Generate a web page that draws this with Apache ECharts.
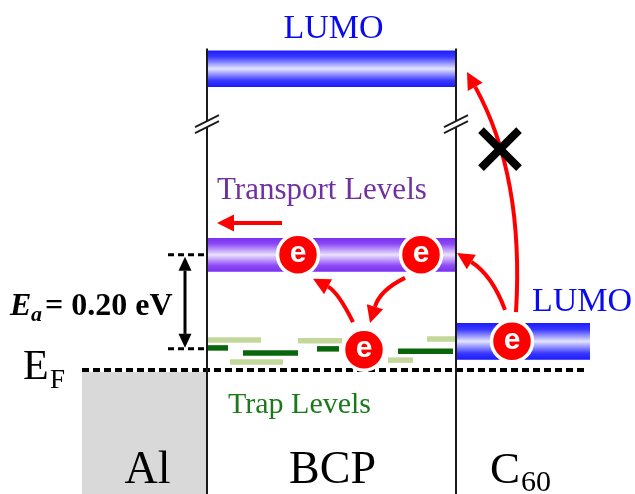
<!DOCTYPE html>
<html>
<head>
<meta charset="utf-8">
<script src="https://cdn.jsdelivr.net/npm/echarts@6/dist/echarts.min.js"></script>
<style>
  html, body { margin: 0; padding: 0; background: #ffffff; }
  #chart { width: 635px; height: 494px; }
</style>
</head>
<body>
<div id="chart"></div>
<script>
// ---- Energy data (eV, measured from the Fermi level E_F) ----
const fermiLevel = 0;
const activationEnergy = 0.20;                       // E_a between trap and transport levels
const trapLevel = 0.045;                             // centre of the BCP trap states
const transportLevel = trapLevel + activationEnergy; // BCP transport levels
const c60Lumo = 0.061;                               // C60 LUMO
const bcpLumo = 0.641;                               // BCP LUMO, drawn above an axis break
const levelEnergies = [bcpLumo, transportLevel, c60Lumo];
const levelNames = ['LUMO', 'Transport Levels', 'LUMO'];
const shallowTraps = [0.064, 0.017, 0.062, 0.021, 0.066];   // light green states
const deepTraps = [0.047, 0.036, 0.045, 0.040];             // dark green states
const electronEnergies = [transportLevel, transportLevel, 0.043, c60Lumo];
const layerNames = ['Al', 'BCP', 'C'];
const layerSubscripts = ['', '', '60'];

// ---- Layout along the horizontal (stack) axis ----
const X_MAX = 635;
const E_MIN = -0.2638, E_MAX = 0.7872;
const alX = [82, 207];
const bcpX = [207, 456];
const c60X = [456, 590];
const fermiX = [82, 585];
const levelX = [bcpX, bcpX, c60X];
const levelHalf = [0.039, 0.036, 0.039];
const shallowX = [[208, 261], [230, 283], [298, 342], [388, 413], [427, 456]];
const deepX = [[208, 228], [243, 298], [317, 339], [398, 453]];
const electronX = [298, 421, 364, 512];
const breakE = 0.521;

const blueBand = new echarts.graphic.LinearGradient(0, 0, 0, 1, [
  { offset: 0, color: '#1a1aff' }, { offset: 0.18, color: '#3a3aff' },
  { offset: 0.5, color: '#e4e4ff' }, { offset: 0.82, color: '#3a3aff' },
  { offset: 1, color: '#1a1aff' }
]);
const purpleBand = new echarts.graphic.LinearGradient(0, 0, 0, 1, [
  { offset: 0, color: '#7a2ff0' }, { offset: 0.18, color: '#8c4af5' },
  { offset: 0.5, color: '#ece2ff' }, { offset: 0.82, color: '#8c4af5' },
  { offset: 1, color: '#7a2ff0' }
]);
const levelFill = [blueBand, purpleBand, blueBand];
const levelText = ['#0a0aee', '#7030a0', '#0a0aee'];

const SERIF = '"Liberation Serif", "Times New Roman", serif';
const RED = '#ff0000';

// Arrow paths in [x, energy]: start, control point(s), tip
const hopArrows = [
  [[353, 0.102], [338, 0.166], [313, 0.194]],          // trap -> transport (left)
  [[405, 0.196], [380, 0.170], [370, 0.100]],          // transport -> trap
  [[505, 0.128], [492, 0.202], [457, 0.249]],          // C60 -> BCP transport
  [[516, 0.123], [521, 0.298], [510, 0.468], [467, 0.634]], // C60 -> BCP LUMO (blocked)
  [[282, 0.313], [217, 0.313]]                          // drift along transport levels
];
const blockedAt = [500, 0.470];

function arrowHead(tip, from, len, half) {
  const dx = tip[0] - from[0], dy = tip[1] - from[1];
  const d = Math.hypot(dx, dy) || 1;
  const ux = dx / d, uy = dy / d;
  const base = [tip[0] - ux * len, tip[1] - uy * len];
  return {
    base,
    points: [tip, [base[0] - uy * half, base[1] + ux * half], [base[0] + uy * half, base[1] - ux * half]]
  };
}

const chart = echarts.init(document.getElementById('chart'));

const option = {
  animation: false,
  backgroundColor: '#ffffff',
  grid: { left: 0, right: 0, top: 0, bottom: 0 },
  xAxis: { type: 'value', min: 0, max: X_MAX, show: false },
  yAxis: { type: 'value', min: E_MIN, max: E_MAX, show: false },
  series: [
    // Al electrode, filled up to the Fermi level
    {
      type: 'custom', z: 1, data: [[alX[0], alX[1], fermiLevel]],
      renderItem(params, api) {
        const a = api.coord([api.value(0), api.value(2)]);
        const b = api.coord([api.value(1), E_MIN]);
        return { type: 'rect', shape: { x: a[0], y: a[1] + 2, width: b[0] - a[0], height: b[1] - a[1] }, style: { fill: '#d9d9d9' } };
      }
    },
    // Energy bands with their labels
    {
      type: 'custom', z: 2, data: levelEnergies.map((e, i) => [i, e]),
      renderItem(params, api) {
        const i = api.value(0), e = api.value(1);
        const xs = levelX[i], h = levelHalf[i];
        const t = api.coord([xs[0], e + h]);
        const b = api.coord([xs[1], e - h]);
        const children = [{ type: 'rect', shape: { x: t[0], y: t[1], width: b[0] - t[0], height: b[1] - t[1] }, style: { fill: levelFill[i] } }];
        let lx, ly, align;
        if (i === 0) { lx = (t[0] + b[0]) / 2 + 2; ly = t[1] - 21; align = 'center'; }
        else if (i === 1) { lx = t[0] + 10; ly = t[1] - 47; align = 'left'; }
        else { lx = b[0] - 58; ly = t[1] - 21; align = 'left'; }
        children.push({
          type: 'text',
          style: { text: levelNames[i], x: lx, y: ly, align, verticalAlign: 'middle', fill: levelText[i], font: (i === 1 ? 31 : 34) + 'px ' + SERIF }
        });
        return { type: 'group', children };
      }
    },
    // Trap states in BCP
    {
      type: 'custom', z: 3,
      data: shallowTraps.map((e, i) => [0, i, e]).concat(deepTraps.map((e, i) => [1, i, e])),
      renderItem(params, api) {
        const kind = api.value(0), i = api.value(1), e = api.value(2);
        const xs = kind === 0 ? shallowX[i] : deepX[i];
        const a = api.coord([xs[0], e]), b = api.coord([xs[1], e]);
        return { type: 'line', shape: { x1: a[0], y1: a[1], x2: b[0], y2: b[1] }, style: { stroke: kind === 0 ? '#c4d79b' : '#0a660a', lineWidth: 5.5 } };
      }
    },
    // Fermi level
    {
      type: 'custom', z: 4, data: [[fermiX[0], fermiX[1], fermiLevel]],
      renderItem(params, api) {
        const a = api.coord([api.value(0), api.value(2)]), b = api.coord([api.value(1), api.value(2)]);
        return { type: 'line', shape: { x1: a[0], y1: a[1], x2: b[0], y2: b[1] }, style: { stroke: '#000', lineWidth: 4, lineDash: [7, 4] } };
      }
    },
    // Layer interfaces with axis-break marks
    {
      type: 'custom', z: 5, data: [bcpX[0], bcpX[1]],
      renderItem(params, api) {
        const x = api.value(0);
        const top = api.coord([x, bcpLumo + levelHalf[0] + 0.004]);
        const bot = api.coord([x, E_MIN]);
        const br = api.coord([x, breakE]);
        return {
          type: 'group', children: [
            { type: 'line', shape: { x1: top[0], y1: top[1], x2: bot[0], y2: bot[1] }, style: { stroke: '#1a1a1a', lineWidth: 2 } },
            { type: 'polygon', shape: { points: [[br[0] - 12, br[1] + 2], [br[0] + 12, br[1] - 10], [br[0] + 12, br[1] - 4], [br[0] - 12, br[1] + 8]] }, style: { fill: '#fff' } },
            { type: 'line', shape: { x1: br[0] - 12, y1: br[1] + 2, x2: br[0] + 12, y2: br[1] - 10 }, style: { stroke: '#1a1a1a', lineWidth: 1.8 } },
            { type: 'line', shape: { x1: br[0] - 12, y1: br[1] + 8, x2: br[0] + 12, y2: br[1] - 4 }, style: { stroke: '#1a1a1a', lineWidth: 1.8 } }
          ]
        };
      }
    },
    // Activation energy marker
    {
      type: 'custom', z: 6, data: [[trapLevel, transportLevel]],
      renderItem(params, api) {
        const lo = api.coord([168, api.value(0)]), hi = api.coord([168, api.value(1)]);
        const loEnd = api.coord([205, api.value(0)]);
        const ax = api.coord([185, 0])[0];
        const hTop = arrowHead([ax, hi[1] + 2], [ax, hi[1] + 40], 14, 6.5);
        const hBot = arrowHead([ax, lo[1] - 1], [ax, lo[1] - 40], 14, 6.5);
        const dash = { stroke: '#000', lineWidth: 3, lineDash: [6, 4] };
        const mid = (lo[1] + hi[1]) / 2;
        const F = 32;
        return {
          type: 'group', children: [
            { type: 'line', shape: { x1: lo[0], y1: lo[1], x2: loEnd[0], y2: lo[1] }, style: dash },
            { type: 'line', shape: { x1: hi[0], y1: hi[1], x2: loEnd[0], y2: hi[1] }, style: dash },
            { type: 'line', shape: { x1: ax, y1: hTop.base[1], x2: ax, y2: hBot.base[1] }, style: { stroke: '#000', lineWidth: 3 } },
            { type: 'polygon', shape: { points: hTop.points }, style: { fill: '#000' } },
            { type: 'polygon', shape: { points: hBot.points }, style: { fill: '#000' } },
            { type: 'text', style: { text: 'E', x: 10, y: mid + 5, verticalAlign: 'middle', fill: '#000', font: 'italic bold ' + F + 'px ' + SERIF } },
            { type: 'text', style: { text: 'a', x: 31, y: mid + 13, verticalAlign: 'middle', fill: '#000', font: 'italic bold 22px ' + SERIF } },
            { type: 'text', style: { text: '= ' + activationEnergy.toFixed(2) + ' eV', x: 45, y: mid + 5, verticalAlign: 'middle', fill: '#000', font: 'bold ' + F + 'px ' + SERIF } }
          ]
        };
      }
    },
    // Electron transfer arrows
    {
      type: 'custom', z: 7, data: hopArrows.map((a, i) => [i]),
      renderItem(params, api) {
        const pts = hopArrows[api.value(0)].map(p => api.coord(p));
        const tip = pts[pts.length - 1];
        const prev = pts[pts.length - 2];
        const head = arrowHead(tip, prev, 17, 8.5);
        let curve;
        if (pts.length === 2) {
          curve = { type: 'line', shape: { x1: pts[0][0], y1: pts[0][1], x2: head.base[0], y2: head.base[1] } };
        } else if (pts.length === 3) {
          curve = { type: 'bezierCurve', shape: { x1: pts[0][0], y1: pts[0][1], cpx1: pts[1][0], cpy1: pts[1][1], x2: head.base[0], y2: head.base[1] } };
        } else {
          curve = { type: 'bezierCurve', shape: { x1: pts[0][0], y1: pts[0][1], cpx1: pts[1][0], cpy1: pts[1][1], cpx2: pts[2][0], cpy2: pts[2][1], x2: head.base[0], y2: head.base[1] } };
        }
        curve.style = { stroke: RED, lineWidth: 4, fill: null };
        return { type: 'group', children: [curve, { type: 'polygon', shape: { points: head.points }, style: { fill: RED } }] };
      }
    },
    // Blocked path marker
    {
      type: 'custom', z: 8, data: [blockedAt],
      renderItem(params, api) {
        const c = api.coord([api.value(0), api.value(1)]);
        const s = 19;
        const st = { stroke: '#000', lineWidth: 8 };
        return {
          type: 'group', children: [
            { type: 'line', shape: { x1: c[0] - s, y1: c[1] - s, x2: c[0] + s, y2: c[1] + s }, style: st },
            { type: 'line', shape: { x1: c[0] - s, y1: c[1] + s, x2: c[0] + s, y2: c[1] - s }, style: st }
          ]
        };
      }
    },
    // Electrons
    {
      type: 'custom', z: 9, data: electronEnergies.map((e, i) => [electronX[i], e]),
      renderItem(params, api) {
        const c = api.coord([api.value(0), api.value(1)]);
        return {
          type: 'group', children: [
            { type: 'circle', shape: { cx: c[0], cy: c[1], r: 20.5 }, style: { fill: RED, stroke: '#ffffff', lineWidth: 3.5 } },
            { type: 'text', style: { text: 'e', x: c[0], y: c[1] - 1, align: 'center', verticalAlign: 'middle', fill: '#fff', font: 'bold 30px "Liberation Sans", Arial, sans-serif' } }
          ]
        };
      }
    },
    // Fermi level, trap label and layer names
    {
      type: 'custom', z: 10, data: [[fermiLevel]],
      renderItem(params, api) {
        const f = api.coord([0, api.value(0)]);
        const bottom = api.coord([0, E_MIN])[1];
        const layerCentres = [(alX[0] + alX[1]) / 2 + 3, (bcpX[0] + bcpX[1]) / 2 + 1, c60X[0] + 34];
        const children = [
          { type: 'text', style: { text: 'E', x: 23, y: f[1] - 2, verticalAlign: 'middle', fill: '#000', font: '42px ' + SERIF } },
          { type: 'text', style: { text: 'F', x: 50, y: f[1] + 11, verticalAlign: 'middle', fill: '#000', font: '27px ' + SERIF } },
          { type: 'text', style: { text: 'Trap Levels', x: 228, y: f[1] + 35, verticalAlign: 'middle', fill: '#1a7a1a', font: '30px ' + SERIF } }
        ];
        layerNames.forEach((name, i) => {
          if (layerSubscripts[i]) {
            children.push({ type: 'text', style: { text: name, x: layerCentres[i], y: bottom - 23, align: 'left', verticalAlign: 'middle', fill: '#000', font: '45px ' + SERIF } });
            children.push({ type: 'text', style: { text: layerSubscripts[i], x: layerCentres[i] + 31, y: bottom - 11, align: 'left', verticalAlign: 'middle', fill: '#000', font: '30px ' + SERIF } });
          } else {
            children.push({ type: 'text', style: { text: name, x: layerCentres[i], y: bottom - 23, align: 'center', verticalAlign: 'middle', fill: '#000', font: '46px ' + SERIF } });
          }
        });
        return { type: 'group', children };
      }
    }
  ]
};

chart.setOption(option);
</script>
</body>
</html>
